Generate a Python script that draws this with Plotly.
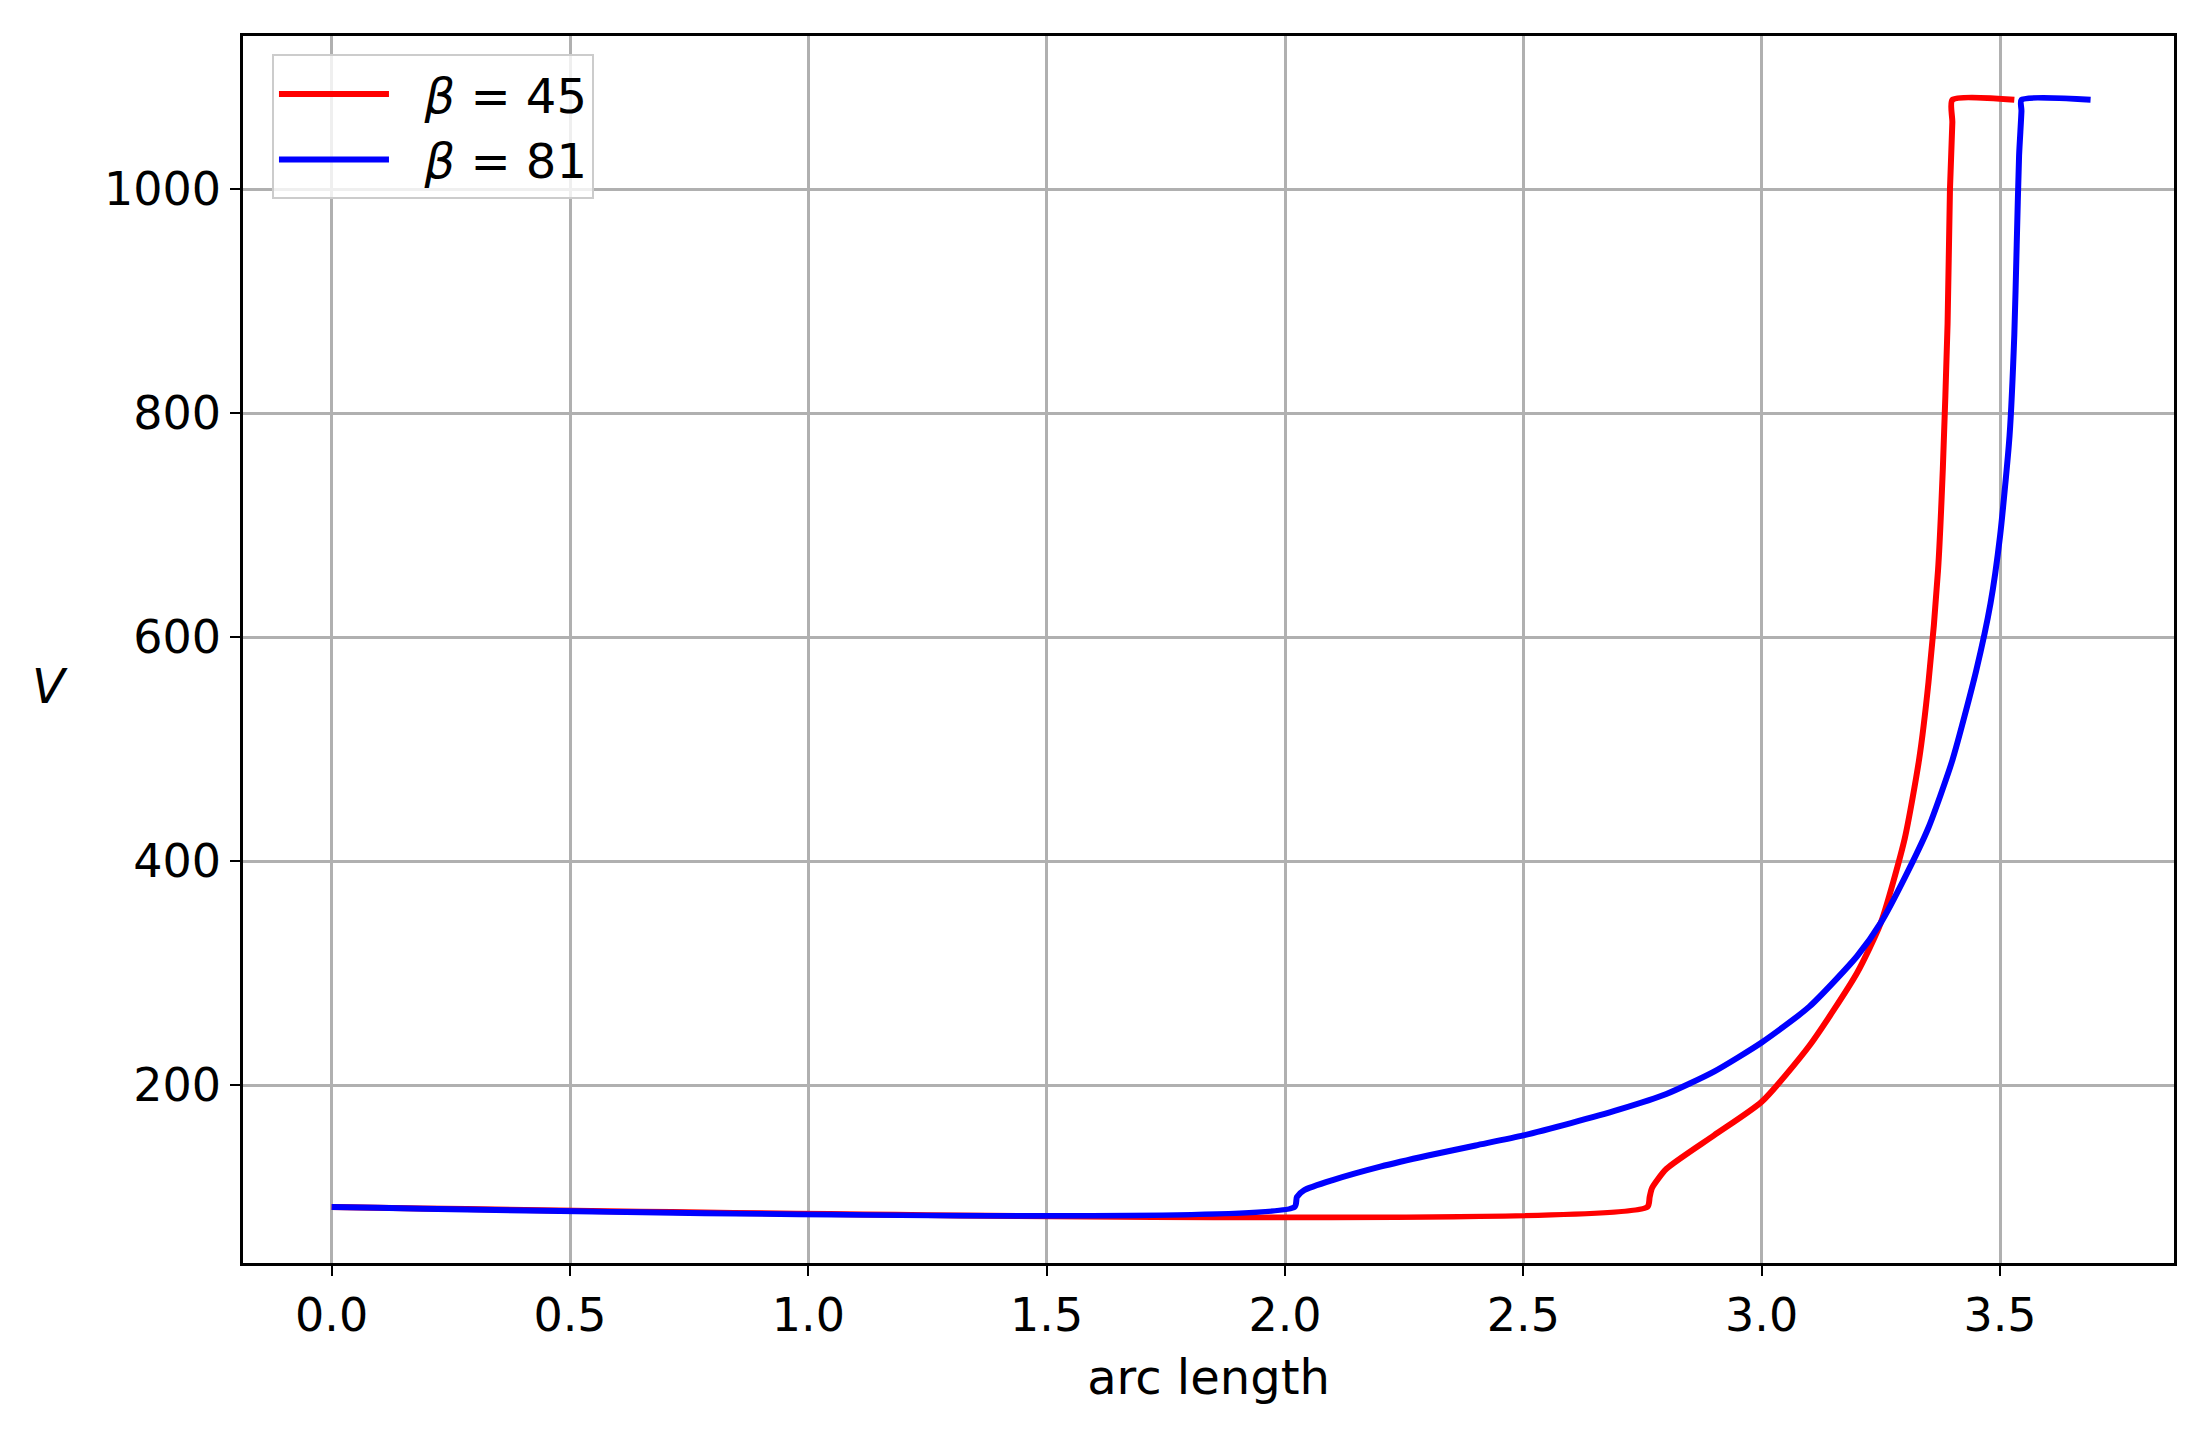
import plotly.graph_objects as go

red_x = [0.0, 2.76, 2.765, 2.77, 2.8, 2.9, 3.0, 3.1, 3.2, 3.25, 3.3, 3.33, 3.35, 3.37, 3.38, 3.39, 3.395, 3.40, 3.40, 3.53]
red_y = [91, 91, 100, 108, 125, 155, 185, 235, 300, 345, 420, 490, 560, 660, 750, 880, 1000, 1060, 1080, 1080]
blue_x = [0.0, 2.02, 2.025, 2.04, 2.1, 2.2, 2.3, 2.4, 2.5, 2.6, 2.7, 2.8, 2.9, 3.0, 3.1, 3.2, 3.25, 3.3, 3.35, 3.4, 3.45, 3.48, 3.5, 3.52, 3.53, 3.535, 3.54, 3.545, 3.545, 3.69]
blue_y = [91, 91, 100, 106, 115, 127, 137, 146, 155, 166, 178, 192, 212, 238, 270, 315, 345, 385, 430, 490, 570, 630, 690, 780, 870, 950, 1030, 1070, 1080, 1080]

fig = go.Figure()
fig.add_trace(go.Scatter(x=red_x, y=red_y, mode="lines", name="  <i>β</i> = 45",
                         line=dict(color="red", width=6, shape="spline", smoothing=0.6)))
fig.add_trace(go.Scatter(x=blue_x, y=blue_y, mode="lines", name="  <i>β</i> = 81",
                         line=dict(color="blue", width=6, shape="spline", smoothing=0.6)))
ax = dict(showline=True, linecolor="black", linewidth=2.5, mirror=True,
          showgrid=True, gridcolor="#b0b0b0", gridwidth=2.5, zeroline=False,
          ticks="outside", ticklen=10, tickwidth=2, tickcolor="black",
          tickfont=dict(size=46, color="black"))
fig.update_layout(
    width=2194, height=1440, plot_bgcolor="white", paper_bgcolor="white",
    font=dict(family="DejaVu Sans", color="black"),
    margin=dict(l=235, r=28, t=28, b=185),
    showlegend=True,
    legend=dict(x=0.015, y=0.985, xanchor="left", yanchor="top",
                bgcolor="rgba(255,255,255,0.8)", bordercolor="#cccccc", borderwidth=2,
                font=dict(size=48), itemwidth=110, tracegroupgap=10),
    xaxis=dict(ax, range=[-0.186, 3.865], tickvals=[0,0.5,1,1.5,2,2.5,3,3.5],
               ticktext=["0.0","0.5","1.0","1.5","2.0","2.5","3.0","3.5"],
               title=dict(text="arc length", font=dict(size=48), standoff=20)),
    yaxis=dict(ax, range=[41, 1137], tickvals=[200,400,600,800,1000]),
)
fig.add_annotation(text="<i>V</i>", xref="paper", yref="paper", x=-0.1, y=0.47,
                   showarrow=False, font=dict(size=48), xanchor="center")
fig.write_html("out.html")
